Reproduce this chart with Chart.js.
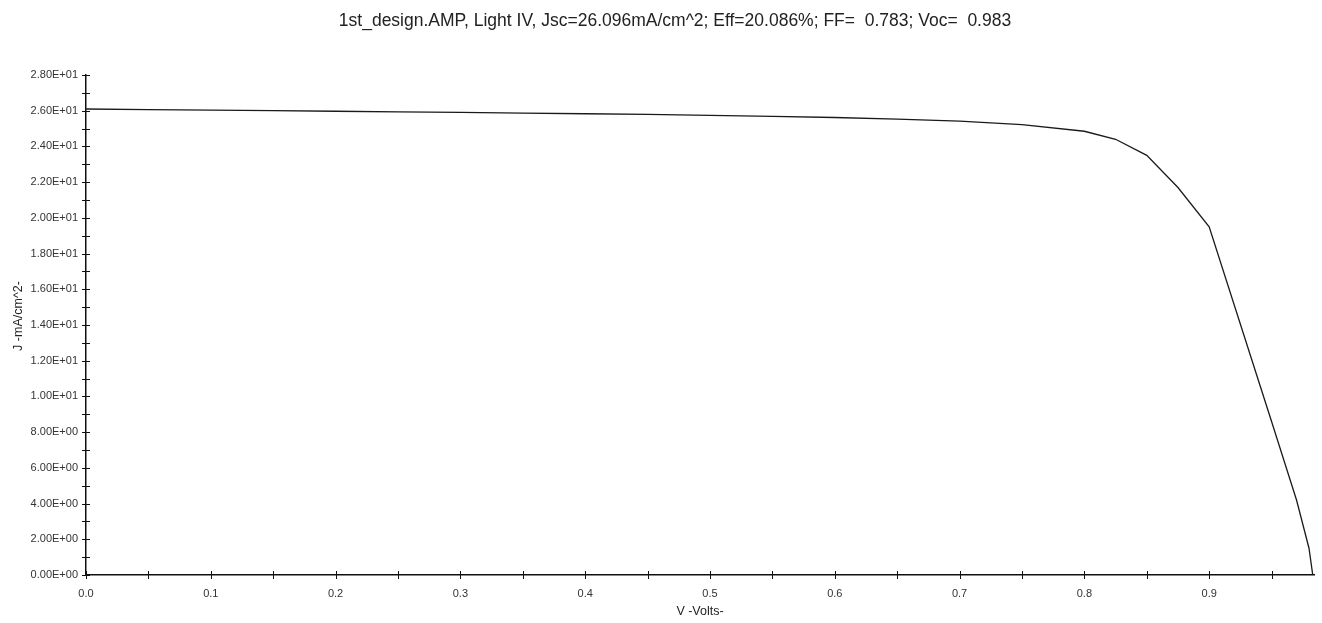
<!DOCTYPE html>
<html>
<head>
<meta charset="utf-8">
<script src="https://cdn.jsdelivr.net/npm/chart.js@4/dist/chart.umd.min.js"></script>
<style>
  html, body { margin: 0; padding: 0; background: #fff; }
  #wrap { width: 1322px; height: 623px; }
</style>
</head>
<body>
<div id="wrap"><canvas id="iv"></canvas></div>
<script>
// --- DATA ---
const voltage = [0.0, 0.05, 0.1, 0.15, 0.2, 0.25, 0.3, 0.35, 0.4, 0.45, 0.5, 0.55, 0.6, 0.65, 0.7, 0.75, 0.8, 0.825, 0.85, 0.875, 0.9, 0.95, 0.97, 0.98, 0.983];
const currentJ = [26.096, 26.06, 26.03, 26.0, 25.97, 25.94, 25.91, 25.87, 25.83, 25.79, 25.74, 25.68, 25.62, 25.53, 25.42, 25.22, 24.85, 24.4, 23.5, 21.7, 19.5, 8.6, 4.2, 1.5, 0.0];

const xTickValues = [0, 0.05, 0.1, 0.15, 0.2, 0.25, 0.3, 0.35, 0.4, 0.45, 0.5, 0.55, 0.6, 0.65, 0.7, 0.75, 0.8, 0.85, 0.9, 0.95];
const xTickLabels = ['0.0', '', '0.1', '', '0.2', '', '0.3', '', '0.4', '', '0.5', '', '0.6', '', '0.7', '', '0.8', '', '0.9', ''];
const yTickValues = [0, 1, 2, 3, 4, 5, 6, 7, 8, 9, 10, 11, 12, 13, 14, 15, 16, 17, 18, 19, 20, 21, 22, 23, 24, 25, 26, 27, 28];
const yTickLabels = yTickValues.map(v => v % 2 === 0 ? sci(v) : '');

const titleText = '1st_design.AMP, Light IV, Jsc=26.096mA/cm^2; Eff=20.086%; FF=  0.783; Voc=  0.983';
const xTitle = 'V -Volts-';
const yTitle = 'J -mA/cm^2-';

// 2.80E+01 style labels
function sci(v) {
    if (v === 0) return '0.00E+00';
    const exp = Math.floor(Math.log10(Math.abs(v)));
    const mant = (v / Math.pow(10, exp)).toFixed(2);
    const sign = exp < 0 ? '-' : '+';
    return mant + 'E' + sign + String(Math.abs(exp)).padStart(2, '0');
}

const FONT = '"Liberation Sans", Arial, sans-serif';

// ticks crossing the axis lines, title + axis titles
const axisDecor = {
    id: 'axisDecor',
    afterDraw(chart) {
        const ctx = chart.ctx;
        const xs = chart.scales.x, ys = chart.scales.y;
        const area = chart.chartArea;
        ctx.save();
        ctx.strokeStyle = '#111';
        ctx.lineWidth = 1;
        ctx.beginPath();
        xTickValues.forEach(v => {
            const px = Math.round(xs.getPixelForValue(v)) + 0.5;
            ctx.moveTo(px, area.bottom - 4);
            ctx.lineTo(px, area.bottom + 4);
        });
        yTickValues.forEach(v => {
            const py = Math.round(ys.getPixelForValue(v)) + 0.5;
            ctx.moveTo(area.left - 4, py);
            ctx.lineTo(area.left + 4, py);
        });
        ctx.stroke();

        ctx.fillStyle = '#222';
        ctx.textAlign = 'center';
        ctx.textBaseline = 'middle';
        ctx.font = '17.5px ' + FONT;
        ctx.fillText(titleText, 675, 21);

        ctx.font = '12.5px ' + FONT;
        ctx.fillText(xTitle, (area.left + area.right) / 2, 612);

        ctx.translate(19, 316);
        ctx.rotate(-Math.PI / 2);
        ctx.fillText(yTitle, 0, 0);
        ctx.restore();
    }
};

const points = voltage.map((v, i) => ({ x: v, y: currentJ[i] }));

new Chart(document.getElementById('iv'), {
    type: 'line',
    data: {
        datasets: [{
            data: points,
            borderColor: '#1a1a1a',
            borderWidth: 1.3,
            pointRadius: 0,
            tension: 0,
            fill: false
        }]
    },
    options: {
        responsive: true,
        maintainAspectRatio: false,
        animation: false,
        layout: { padding: { top: 75, right: 8, left: 0, bottom: 0 } },
        plugins: {
            legend: { display: false },
            tooltip: { enabled: false },
            title: { display: false }
        },
        scales: {
            x: {
                type: 'linear',
                min: 0,
                max: 0.984,
                afterBuildTicks: s => { s.ticks = xTickValues.map(v => ({ value: v })); },
                afterFit: s => { s.height = 48; },
                grid: { display: false, drawTicks: false },
                border: { display: true, color: '#111', width: 1.5 },
                ticks: {
                    autoSkip: false,
                    maxRotation: 0,
                    padding: 12,
                    color: '#333',
                    font: { family: FONT, size: 11 },
                    callback: (v, i) => xTickLabels[i]
                }
            },
            y: {
                type: 'linear',
                min: 0,
                max: 28,
                afterBuildTicks: s => { s.ticks = yTickValues.map(v => ({ value: v })); },
                afterFit: s => { s.width = 86; },
                grid: { display: false, drawTicks: false },
                border: { display: true, color: '#111', width: 1.5 },
                ticks: {
                    autoSkip: false,
                    padding: 8,
                    color: '#333',
                    font: { family: FONT, size: 11 },
                    callback: (v, i) => yTickLabels[i]
                }
            }
        }
    },
    plugins: [axisDecor]
});
</script>
</body>
</html>
